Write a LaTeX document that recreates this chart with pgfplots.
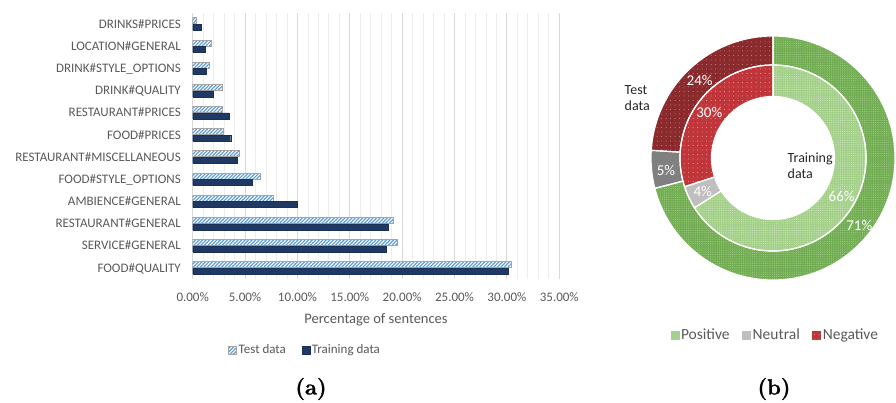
\documentclass[border=0pt]{standalone}
\usepackage{fontspec}
\usepackage{pgfplots}
\pgfplotsset{compat=1.18}
\usetikzlibrary{patterns.meta}
\newfontfamily\carlito{Carlito}
\newfontfamily\lmbold{lmroman12-bold.otf}[FakeBold=1.2]
\definecolor{txtgray}{HTML}{595959}
\definecolor{testblue}{HTML}{5B9BD5}
\definecolor{testedge}{HTML}{A5A5A5}
\definecolor{trainblue}{HTML}{203864}
\definecolor{gridmaj}{HTML}{D9D9D9}
\definecolor{gridmin}{HTML}{EDEDED}
\definecolor{posout}{HTML}{72AD53}
\definecolor{posoutdot}{HTML}{A4D08A}
\definecolor{posin}{HTML}{A4D08A}
\definecolor{posindot}{HTML}{CDE8BD}
\definecolor{neuout}{HTML}{808080}
\definecolor{neuin}{HTML}{BFBFBF}
\definecolor{negout}{HTML}{8B2A2D}
\definecolor{negoutdot}{HTML}{C88A8C}
\definecolor{negin}{HTML}{C0353A}
\definecolor{negindot}{HTML}{E7A5A7}

\pgfplotsset{sqlegend/.style={legend image code/.code={\draw[##1] (0pt,-4pt) rectangle (8pt,4pt);}}}

% one ring segment: inner r, outer r, start %, end %, style
\newcommand\donutseg[5]{%
  \path[#5] (axis cs:{#2*cos(90-3.6*#3)},{#2*sin(90-3.6*#3)})
    arc[start angle={90-3.6*#3}, end angle={90-3.6*#4}, radius=#2pt]
    -- (axis cs:{#1*cos(90-3.6*#4)},{#1*sin(90-3.6*#4)})
    arc[start angle={90-3.6*#4}, end angle={90-3.6*#3}, radius=#1pt]
    -- cycle;}

\begin{document}
\begin{tikzpicture}[x=1pt,y=1pt]
\useasboundingbox (0,0) rectangle (896,402);

% (a) aspect categories
\begin{axis}[
  at={(192.7pt,123pt)}, anchor=south west,
  scale only axis, width=366.6pt, height=266pt,
  xmin=0, xmax=35, ymin=-0.5, ymax=11.5,
  xtick={0,5,...,35}, minor x tick num=4,
  xmajorgrids, xminorgrids,
  major grid style={gridmaj, line width=1pt},
  minor grid style={gridmin, line width=0.8pt},
  axis line style={draw=none},
  major tick length=0pt, minor tick length=0pt,
  /pgf/number format/assume math mode=true,
  xticklabel={\pgfmathprintnumber[fixed,fixed zerofill,precision=2]{\tick}\%},
  xticklabel style={font=\carlito\fontsize{13}{15}\selectfont, text=txtgray,
    inner sep=0pt, anchor=center, yshift=-18.5pt},
  ytick={0,...,11},
  yticklabels={FOOD\#QUALITY, SERVICE\#GENERAL, RESTAURANT\#GENERAL,
    AMBIENCE\#GENERAL, FOOD\#STYLE\_OPTIONS, RESTAURANT\#MISCELLANEOUS,
    FOOD\#PRICES, RESTAURANT\#PRICES, DRINK\#QUALITY, DRINK\#STYLE\_OPTIONS,
    LOCATION\#GENERAL, DRINKS\#PRICES},
  yticklabel style={font=\carlito\fontsize{13}{15}\selectfont, text=txtgray,
    inner sep=0pt, anchor=base east, xshift=-11.7pt, yshift=-4.2pt},
  xlabel={Percentage of sentences},
  xlabel style={font=\carlito\fontsize{14.5}{17}\selectfont, text=txtgray,
    at={(axis description cs:0.5,0)}, anchor=center, yshift=-41pt},
  legend style={at={(axis description cs:0.306,-0.267)}, anchor=center,
    draw=none, fill=none, legend columns=2,
    font=\carlito\fontsize{13}{15}\selectfont, text=txtgray,
    nodes={inner sep=1.8pt},
    /tikz/every even column/.append style={column sep=14pt}},
]
\addplot[xbar, bar width=6pt, bar shift=3.2pt, sqlegend,
  fill=testblue, draw=testedge, line width=0.9pt,
  postaction={pattern={Lines[angle=45,distance=2.5pt,line width=1.1pt]}, pattern color=white}]
coordinates {
(30.47,0) (19.53,1) (19.15,2) (7.68,3) (6.47,4) (4.43,5)
(2.93,6) (2.80,7) (2.80,8) (1.63,9) (1.79,10) (0.35,11)
};
\addplot[xbar, bar width=6pt, bar shift=-3.2pt, sqlegend,
  fill=trainblue, draw=trainblue!85!black, line width=0.4pt]
coordinates {
(30.15,0) (18.51,1) (18.67,2) (9.97,3) (5.64,4) (4.27,5)
(3.63,6) (3.50,7) (2.00,8) (1.27,9) (1.21,10) (0.83,11)
};
\legend{Test data, Training data}
\end{axis}

% (b) sentiment: outer ring test data, inner ring training data
\begin{axis}[
  at={(773pt,244pt)}, anchor=center, hide axis,
  x=1pt, y=1pt, xmin=-125, xmax=125, ymin=-125, ymax=125, clip=false,
  legend image code/.code={\fill[#1] (0pt,-4.5pt) rectangle (9pt,4.5pt);},
  legend style={at={(axis description cs:0.508,-0.208)}, anchor=center,
    draw=none, fill=none, legend columns=3,
    font=\carlito\fontsize{15.5}{18}\selectfont, text=txtgray,
    nodes={inner sep=1.5pt},
    /tikz/every even column/.append style={column sep=11pt}},
]
\addlegendimage{draw=none, fill=posin, postaction={pattern={Dots[distance=2pt,radius=0.45pt]}, pattern color=posindot}}
\addlegendentry{Positive}
\addlegendimage{draw=none, fill=neuin}
\addlegendentry{Neutral}
\addlegendimage{draw=none, fill=negin, postaction={pattern={Dots[distance=4.5pt,radius=0.5pt]}, pattern color=negindot}}
\addlegendentry{Negative}
% test data: 71 / 5 / 24
\donutseg{93}{122}{0}{71}{fill=posout, postaction={pattern={Dots[distance=2.2pt,radius=0.5pt]}, pattern color=posoutdot}}
\donutseg{93}{122}{71}{76}{fill=neuout}
\donutseg{93}{122}{76}{100}{fill=negout, postaction={pattern={Dots[distance=4.5pt,radius=0.5pt]}, pattern color=negoutdot}}
% training data: 66 / 4 / 30
\donutseg{61.5}{93}{0}{66}{fill=posin, postaction={pattern={Dots[distance=2.2pt,radius=0.5pt]}, pattern color=posindot}}
\donutseg{61.5}{93}{66}{70}{fill=neuin}
\donutseg{61.5}{93}{70}{100}{fill=negin, postaction={pattern={Dots[distance=4.5pt,radius=0.5pt]}, pattern color=negindot}}
% white separators
\donutseg{93}{122}{0}{71}{draw=white, line width=1.2pt}
\donutseg{93}{122}{71}{76}{draw=white, line width=1.2pt}
\donutseg{93}{122}{76}{100}{draw=white, line width=1.2pt}
\donutseg{61.5}{93}{0}{66}{draw=white, line width=1.2pt}
\donutseg{61.5}{93}{66}{70}{draw=white, line width=1.2pt}
\donutseg{61.5}{93}{70}{100}{draw=white, line width=1.2pt}
\end{axis}

\begin{scope}[every node/.style={font=\carlito\fontsize{15}{17}\selectfont, text=white, inner sep=0pt}]
\node at (699.7,322) {24\%};
\node at (709.3,289.3) {30\%};
\node at (666,232) {5\%};
\node at (702.7,210.3) {4\%};
\node at (841.7,205.3) {66\%};
\node at (859.3,176.3) {71\%};
\end{scope}
\node[font=\carlito\fontsize{14}{16}\selectfont, text=black!85, align=left, anchor=west, inner sep=0pt]
  at (624.5,303.5) {Test\\data};
\node[font=\carlito\fontsize{14}{16}\selectfont, text=black!85, align=left, anchor=west, inner sep=0pt]
  at (787.5,236.5) {Training\\data};

\node[font=\lmbold\fontsize{22}{26}\selectfont] at (311,13) {(a)};
\node[font=\lmbold\fontsize{22}{26}\selectfont] at (774,13) {(b)};
\end{tikzpicture}
\end{document}
